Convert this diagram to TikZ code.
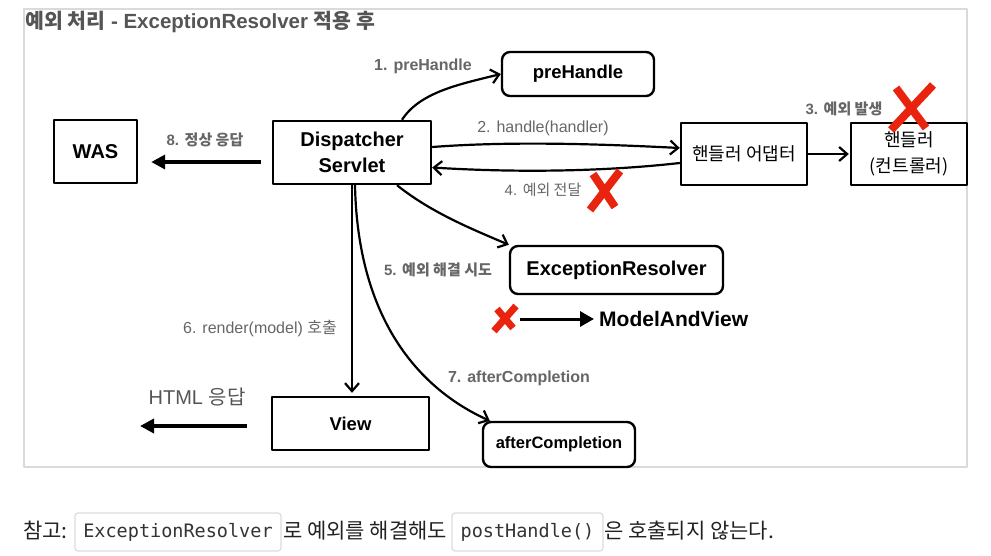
\documentclass[tikz,border=0pt]{standalone}
\usepackage{fontspec}
\setmainfont{Liberation Sans}
\newfontfamily\kr{Noto Sans CJK KR}
\newfontfamily\mono{DejaVu Sans Mono}
\usetikzlibrary{arrows.meta}
\newcommand{\K}[1]{{\kr #1}}
\definecolor{lblgray}{HTML}{666666}
\definecolor{ttlgray}{HTML}{555555}
\definecolor{xred}{HTML}{E8230E}
\definecolor{frmgray}{HTML}{DADADA}
\definecolor{codeb}{HTML}{DCDCDC}
\definecolor{bodyc}{HTML}{222222}
\definecolor{codec}{HTML}{333333}
\tikzset{
  box/.style={draw, line width=2.4pt, inner sep=0pt, align=center,
    font=\bfseries\fontsize{20}{26}\selectfont},
  rbox/.style={box, rounded corners=8pt},
  krbox/.style={box, font=\kr\fontsize{18}{26}\selectfont},
  lbl/.style={text=lblgray, inner sep=0pt},
  lblb/.style={lbl, font=\bfseries\fontsize{16}{20}\selectfont},
  lblr/.style={lbl, font=\fontsize{16}{20}\selectfont},
  flow/.style={line width=2.2pt, -{Straight Barb[length=8pt,width=14pt,line width=2.2pt]}},
  fat/.style={line width=4pt, -{Triangle[length=14pt,width=14pt]}},
  xmark/.style={xred, line width=8pt},
  codebox/.style={draw=codeb, line width=1.2pt, rounded corners=3pt, inner sep=0pt,
    minimum height=38pt, text=codec, font=\mono\fontsize{18.5}{22}\selectfont},
  bodytxt/.style={anchor=base west, inner sep=0pt, text=bodyc, font=\kr\fontsize{21}{24}\selectfont}
}
\begin{document}
\begin{tikzpicture}[x=1pt, y=-1pt, line join=round]
\useasboundingbox (0,0) rectangle (991,555);
% frame
\draw[frmgray, line width=2pt] (24,9) rectangle (967,467);
\node[anchor=west, inner sep=0pt, text=ttlgray, font=\bfseries\fontsize{20.5}{24}\selectfont] (title) at (25,22)
  {\K{예외 처리} - ExceptionResolver \K{적용 후}};

% boxes
\node[box, minimum width=83pt, minimum height=63pt] (was) at (95.5,151.5) {WAS};
\node[box, minimum width=158pt, minimum height=63pt] (ds) at (352,152.5) {Dispatcher\\Servlet};
\node[rbox, minimum width=152pt, minimum height=44pt, font=\bfseries\fontsize{18.5}{22}\selectfont] (pre) at (578,74) {preHandle};
\node[krbox, minimum width=126pt, minimum height=62pt] (ad) at (744,154) {핸들러 어댑터};
\node[krbox, minimum width=116pt, minimum height=62pt] (hd) at (909,154) {핸들러\\(컨트롤러)};
\node[rbox, minimum width=213pt, minimum height=48pt] (er) at (616.5,270) {ExceptionResolver};
\node[rbox, minimum width=152pt, minimum height=45pt, font=\bfseries\fontsize{16.5}{20}\selectfont] (ac) at (559,444.5) {afterCompletion};
\node[box, minimum width=157pt, minimum height=53pt, font=\bfseries\fontsize{18.5}{22}\selectfont] (view) at (350.5,423.5) {View};
\node[anchor=west, inner sep=0pt, font=\bfseries\fontsize{21}{24}\selectfont] (mav) at (599,319) {ModelAndView};

% connectors
\draw[flow] ([xshift=50pt]ds.north) .. controls +(18,-28) and +(-40,10) .. (pre.west);
\draw[flow] ([yshift=5.5pt]ds.east) .. controls +(80,-6) and +(-80,-4) .. ([yshift=6pt]ad.west);
\draw[flow] ([yshift=-9pt]ad.west) .. controls +(-80,9) and +(80,5) .. ([yshift=-15pt]ds.east);
\draw[flow, shorten >=1pt] (ad.east) -- (hd.west);
\draw[flow] ([xshift=45pt]ds.south) .. controls +(35,28) and +(-35,-15) .. (er.north west);
\draw[flow, shorten >=3pt] (ds.south) -- (ds.south |- view.north);
\draw[flow] ([xshift=3pt]ds.south) .. controls +(3,146) and +(-60,-27) .. ([xshift=8pt]ac.north west);
\draw[fat] ([xshift=-11pt,yshift=-9.5pt]ds.west) -- ([xshift=13pt,yshift=-10.5pt]was.east);
\coordinate (htmlend) at (140,426);
\draw[fat] ([xshift=-24pt,yshift=-2.5pt]view.west) -- (htmlend);
\coordinate (mavstart) at (520,319);
\draw[line width=3pt, -{Triangle[length=14pt,width=15pt]}, shorten >=5pt] (mavstart) -- (mav.west);

% labels
\node[lblb] (l1) at (423,66) {1. preHandle};
\node[lblr] (l2) at (543,128) {2. handle(handler)};
\node[lblb, font=\bfseries\fontsize{15}{18}\selectfont] (l3) at (844,109) {3. \K{예외 발생}};
\node[lblr, font=\fontsize{15}{18}\selectfont] (l4) at (543,190) {4. \K{예외 전달}};
\node[lblb, font=\bfseries\fontsize{15}{18}\selectfont] (l5) at (438,270) {5. \K{예외 해결 시도}};
\node[lblr] (l6) at (260,328) {6. render(model) \K{호출}};
\node[lblb] (l7) at (519,378) {7. afterCompletion};
\node[lblb, font=\bfseries\fontsize{15}{18}\selectfont] (l8) at (205,140) {8. \K{정상 응답}};
\node[lbl, text=ttlgray, font=\fontsize{20}{24}\selectfont] (lhtml) at (197,397) {HTML \K{응답}};

% red crosses
\draw[xmark] (896,88) -- (926,128);
\draw[xmark] (933,85) -- (891,130);
\draw[xmark] (593,174) -- (615,207);
\draw[xmark] (620,171) -- (590,210);
\draw[xmark, line width=7pt] (497,309) -- (513,328);
\draw[xmark, line width=7pt] (516,306) -- (494,331);

% note line
\node[bodytxt] (n1) at (23,538) {참고:};
\node[codebox, minimum width=206pt] (c1) at (178,532) {ExceptionResolver};
\node[bodytxt] (n2) at (283,538) {로 예외를 해결해도};
\node[codebox, minimum width=151pt] (c2) at (527.5,532) {postHandle()};
\node[bodytxt] (n3) at (604,538) {은 호출되지 않는다.};
\end{tikzpicture}
\end{document}
